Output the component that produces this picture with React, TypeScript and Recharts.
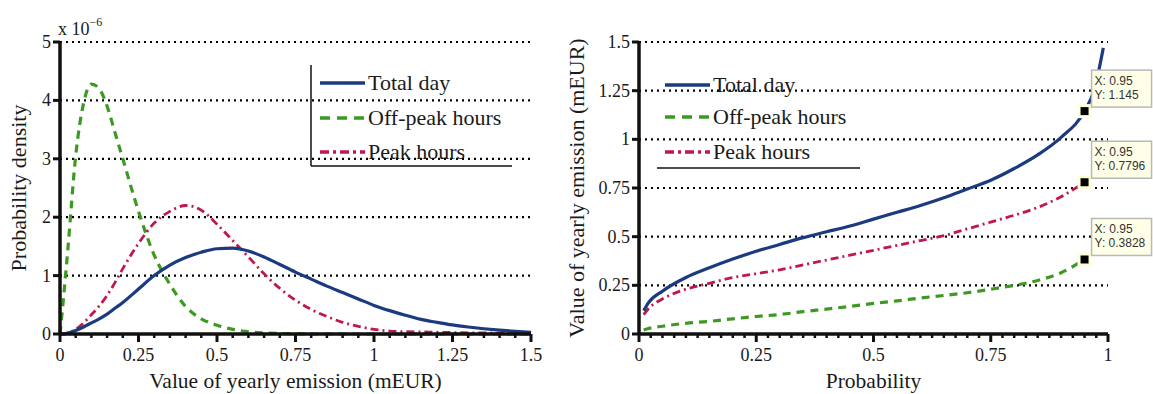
import React from "react";
import {
  CartesianGrid,
  Label,
  Line,
  LineChart,
  ReferenceDot,
  XAxis,
  YAxis,
} from "recharts";

const FONT = "'Liberation Serif', 'DejaVu Serif', serif";
const TEXT = "#1a1a1a";

const BLUE = "#1b3a80";
const GREEN = "#3c9a22";
const RED = "#c0174c";

const serif = (size: number) => ({ fontFamily: FONT, fontSize: size, fill: TEXT });

// left panel: probability density (x 10^-6) over yearly emission value
const densityGrid = [
  0, 0.01, 0.025, 0.05, 0.075, 0.1, 0.125, 0.15, 0.175, 0.2, 0.25, 0.3, 0.35,
  0.4, 0.45, 0.5, 0.55, 0.6, 0.65, 0.7, 0.75, 0.8, 0.85, 0.9, 0.95, 1.0, 1.05,
  1.1, 1.15, 1.2, 1.25, 1.3, 1.35, 1.4, 1.45, 1.5,
];
const totalDensity = [
  0, 0, 0.015, 0.06, 0.12, 0.19, 0.26, 0.34, 0.44, 0.54, 0.77, 1.0, 1.18, 1.31,
  1.4, 1.46, 1.47, 1.42, 1.32, 1.19, 1.06, 0.94, 0.82, 0.71, 0.6, 0.49, 0.4,
  0.32, 0.25, 0.2, 0.155, 0.12, 0.09, 0.065, 0.045, 0.03,
];
const offPeakDensity = [
  0, 0.55, 1.45, 3.05, 3.95, 4.28, 4.2, 3.9, 3.45, 3.0, 2.1, 1.35, 0.85, 0.47,
  0.26, 0.15, 0.08, 0.04, 0.02, 0.01, 0.005, 0, 0, 0, 0, 0, 0, 0, 0, 0, 0, 0, 0,
  0, 0, 0,
];
const peakDensity = [
  0, 0, 0.02, 0.08, 0.19, 0.33, 0.48, 0.66, 0.88, 1.12, 1.55, 1.9, 2.1, 2.2,
  2.12, 1.88, 1.6, 1.32, 1.03, 0.78, 0.58, 0.42, 0.3, 0.2, 0.13, 0.08, 0.05,
  0.04, 0.035, 0.03, 0.025, 0.02, 0.018, 0.015, 0.012, 0.01,
];

// right panel: value of yearly emission against probability
const probGrid = [
  0.01, 0.02, 0.05, 0.1, 0.15, 0.2, 0.25, 0.3, 0.35, 0.4, 0.45, 0.5, 0.55, 0.6,
  0.65, 0.7, 0.75, 0.8, 0.85, 0.9, 0.95,
];
const totalQuantile = [
  0.12, 0.16, 0.22, 0.29, 0.34, 0.385, 0.425, 0.46, 0.495, 0.525, 0.555, 0.59,
  0.625, 0.66, 0.7, 0.745, 0.79, 0.85, 0.92, 1.01, 1.145,
];
const totalTailProb = [0.97, 0.98, 0.99];
const totalTail = [1.25, 1.35, 1.47];
const offPeakQuantile = [
  0.02, 0.028, 0.04, 0.055, 0.065, 0.078, 0.09, 0.1, 0.115, 0.128, 0.142, 0.157,
  0.17, 0.185, 0.198, 0.212, 0.23, 0.25, 0.275, 0.315, 0.383,
];
const peakQuantile = [
  0.1, 0.13, 0.18, 0.23, 0.26, 0.29, 0.31, 0.33, 0.355, 0.38, 0.405, 0.43,
  0.455, 0.48, 0.505, 0.54, 0.575, 0.61, 0.65, 0.705, 0.78,
];

const tipProb = 0.95;
const tipValues = [1.145, 0.7796, 0.3828];
const tipLabels = ["1.145", "0.7796", "0.3828"];

const leftXMajor = [0, 0.25, 0.5, 0.75, 1, 1.25, 1.5];
const leftXLabels = ["0", "0.25", "0.5", "0.75", "1", "1.25", "1.5"];
const leftYTicks = [0, 1, 2, 3, 4, 5];
const leftYLabels = ["0", "1", "2", "3", "4", "5"];

const rightXMajor = [0, 0.25, 0.5, 0.75, 1];
const rightXLabels = ["0", "0.25", "0.5", "0.75", "1"];
const rightYTicks = [0, 0.25, 0.5, 0.75, 1, 1.25, 1.5];
const rightYLabels = ["0", "0.25", "0.5", "0.75", "1", "1.25", "1.5"];

const seriesNames = ["Total day", "Off-peak hours", "Peak hours"];

const leftData = densityGrid.map((x, i) => ({
  x,
  total: totalDensity[i],
  offPeak: offPeakDensity[i],
  peak: peakDensity[i],
}));

const rightData = [
  ...probGrid.map((p, i) => ({
    p,
    total: totalQuantile[i],
    offPeak: offPeakQuantile[i],
    peak: peakQuantile[i],
  })),
  ...totalTailProb.map((p, i) => ({ p, total: totalTail[i] })),
];

const minorTicks = (max: number, step: number) =>
  Array.from({ length: Math.round(max / step) + 1 }, (_, i) =>
    Number((i * step).toFixed(4))
  );

function XTick(props: any) {
  const { x, y, payload, majors, labels } = props;
  const idx = majors.findIndex((m: number) => Math.abs(m - payload.value) < 1e-6);
  const major = idx >= 0;
  return (
    <g>
      <line
        x1={x}
        x2={x}
        y1={y}
        y2={y + (major ? 8 : 4)}
        stroke="#111"
        strokeWidth={major ? 3 : 2.5}
      />
      {major && (
        <text x={x} y={y + 27} textAnchor="middle" style={serif(18)}>
          {labels[idx]}
        </text>
      )}
    </g>
  );
}

function YTick(props: any) {
  const { x, y, payload, ticks, labels } = props;
  const idx = ticks.findIndex((t: number) => Math.abs(t - payload.value) < 1e-6);
  return (
    <g>
      <line x1={x - 7} x2={x} y1={y} y2={y} stroke="#111" strokeWidth={3} />
      <text x={x - 9} y={y + 6} textAnchor="end" style={serif(18)}>
        {idx >= 0 ? labels[idx] : ""}
      </text>
    </g>
  );
}

function VerticalTitle(props: any) {
  const { viewBox, value, dx } = props;
  const cx = viewBox.x + viewBox.width + dx;
  const cy = viewBox.y + viewBox.height / 2;
  return (
    <text
      x={cx}
      y={cy}
      transform={`rotate(-90, ${cx}, ${cy})`}
      textAnchor="middle"
      dominantBaseline="central"
      style={serif(22)}
    >
      {value}
    </text>
  );
}

const sans = { fontFamily: "'Liberation Sans', Arial, sans-serif", fontSize: 12, fill: "#333" };

function TipShape(props: any) {
  const { cx, cy, label } = props;
  return (
    <g>
      <rect x={cx - 7} y={cy - 7} width={14} height={14} fill="#ffffd8" />
      <rect x={cx - 4} y={cy - 4} width={8} height={8} fill="#000" />
      <rect
        x={cx + 7}
        y={cy - 41}
        width={60}
        height={37}
        fill="#ffffe8"
        stroke="#b8b8b8"
        strokeWidth={1.5}
      />
      <text x={cx + 10} y={cy - 26} style={sans}>
        X: 0.95
      </text>
      <text x={cx + 10} y={cy - 12} style={sans}>
        Y: {label}
      </text>
    </g>
  );
}

function LegendSample({ x1, x2, y, kind }: { x1: number; x2: number; y: number; kind: number }) {
  if (kind === 0)
    return <line x1={x1} x2={x2} y1={y} y2={y} stroke={BLUE} strokeWidth={3.5} />;
  if (kind === 1)
    return (
      <line x1={x1} x2={x2} y1={y} y2={y} stroke={GREEN} strokeWidth={3.5} strokeDasharray="10 7" />
    );
  return (
    <line x1={x1} x2={x2} y1={y} y2={y} stroke={RED} strokeWidth={3.5} strokeDasharray="9 4 3 4" />
  );
}

function LegendBlock({ x, rows }: { x: number; rows: number[] }) {
  return (
    <g>
      {seriesNames.map((name, i) => (
        <g key={name}>
          <LegendSample x1={x} x2={x + 45} y={rows[i]} kind={i} />
          <text x={x + 48} y={rows[i] + 7} style={serif(22)}>
            {name}
          </text>
        </g>
      ))}
    </g>
  );
}

const axisLine = { stroke: "#111", strokeWidth: 3.5 };

export default function App() {
  return (
    <div
      style={{
        position: "absolute",
        left: 0,
        top: 0,
        width: 1153,
        height: 394,
        background: "#fff",
        overflow: "hidden",
      }}
    >
      <div style={{ position: "absolute", left: 0, top: 0 }}>
        <LineChart
          width={560}
          height={394}
          data={leftData}
          margin={{ top: 42, right: 29, bottom: 0, left: 0 }}
        >
          <CartesianGrid
            vertical={false}
            stroke="#000"
            strokeWidth={2.2}
            strokeDasharray="2 4"
          />
          <XAxis
            type="number"
            dataKey="x"
            domain={[0, 1.5]}
            ticks={minorTicks(1.5, 0.05)}
            interval={0}
            height={60}
            tickSize={0}
            tickMargin={0}
            axisLine={axisLine}
            tickLine={false}
            tick={(p: any) => <XTick {...p} majors={leftXMajor} labels={leftXLabels} />}
          >
            <Label
              value="Value of yearly emission (mEUR)"
              position="insideBottom"
              offset={6}
              style={serif(21.5)}
            />
          </XAxis>
          <YAxis
            type="number"
            domain={[0, 5]}
            ticks={leftYTicks}
            interval={0}
            width={60}
            tickSize={0}
            tickMargin={0}
            axisLine={axisLine}
            tickLine={false}
            tick={(p: any) => <YTick {...p} ticks={leftYTicks} labels={leftYLabels} />}
          >
            <Label
              content={(p: any) => (
                <VerticalTitle {...p} value="Probability density" dx={-42} />
              )}
            />
          </YAxis>
          <Line
            type="monotone"
            dataKey="offPeak"
            stroke={GREEN}
            strokeWidth={3.2}
            strokeDasharray="8 6"
            dot={false}
            isAnimationActive={false}
          />
          <Line
            type="monotone"
            dataKey="peak"
            stroke={RED}
            strokeWidth={2.8}
            strokeDasharray="8 4 2 4"
            dot={false}
            isAnimationActive={false}
          />
          <Line
            type="monotone"
            dataKey="total"
            stroke={BLUE}
            strokeWidth={3.2}
            dot={false}
            isAnimationActive={false}
          />
        </LineChart>
      </div>

      <div style={{ position: "absolute", left: 555, top: 0 }}>
        <LineChart
          width={598}
          height={394}
          data={rightData}
          margin={{ top: 42, right: 45, bottom: 0, left: 0 }}
        >
          <CartesianGrid
            vertical={false}
            stroke="#000"
            strokeWidth={2.2}
            strokeDasharray="2 4"
          />
          <XAxis
            type="number"
            dataKey="p"
            domain={[0, 1]}
            ticks={minorTicks(1, 0.025)}
            interval={0}
            height={60}
            tickSize={0}
            tickMargin={0}
            axisLine={axisLine}
            tickLine={false}
            tick={(p: any) => <XTick {...p} majors={rightXMajor} labels={rightXLabels} />}
          >
            <Label value="Probability" position="insideBottom" offset={6} style={serif(21.5)} />
          </XAxis>
          <YAxis
            type="number"
            domain={[0, 1.5]}
            ticks={rightYTicks}
            interval={0}
            width={84}
            tickSize={0}
            tickMargin={0}
            axisLine={axisLine}
            tickLine={false}
            allowDataOverflow
            tick={(p: any) => <YTick {...p} ticks={rightYTicks} labels={rightYLabels} />}
          >
            <Label
              content={(p: any) => (
                <VerticalTitle {...p} value="Value of yearly emission (mEUR)" dx={-63} />
              )}
            />
          </YAxis>
          <Line
            type="monotone"
            dataKey="offPeak"
            stroke={GREEN}
            strokeWidth={3.2}
            strokeDasharray="8 6"
            dot={false}
            isAnimationActive={false}
          />
          <Line
            type="monotone"
            dataKey="peak"
            stroke={RED}
            strokeWidth={2.8}
            strokeDasharray="8 4 2 4"
            dot={false}
            isAnimationActive={false}
          />
          <Line
            type="monotone"
            dataKey="total"
            stroke={BLUE}
            strokeWidth={3.2}
            dot={false}
            isAnimationActive={false}
          />
          {tipValues.map((v, i) => (
            <ReferenceDot
              key={i}
              x={tipProb}
              y={v}
              ifOverflow="visible"
              shape={(p: any) => <TipShape {...p} label={tipLabels[i]} />}
            />
          ))}
        </LineChart>
      </div>

      <svg
        width={1153}
        height={394}
        style={{ position: "absolute", left: 0, top: 0, pointerEvents: "none" }}
      >
        <text x={58} y={35} style={serif(18)}>
          x 10
          <tspan dy={-9} style={{ fontSize: 12 }}>
            −6
          </tspan>
        </text>
        <line x1={311} x2={311} y1={65} y2={166} stroke="#111" strokeWidth={1.5} />
        <line x1={311} x2={512} y1={166} y2={166} stroke="#111" strokeWidth={1.5} />
        <LegendBlock x={320} rows={[83, 118, 152]} />
        <LegendBlock x={665} rows={[85, 117, 152]} />
        <line x1={657} x2={860} y1={168} y2={168} stroke="#111" strokeWidth={1.5} />
      </svg>
    </div>
  );
}
